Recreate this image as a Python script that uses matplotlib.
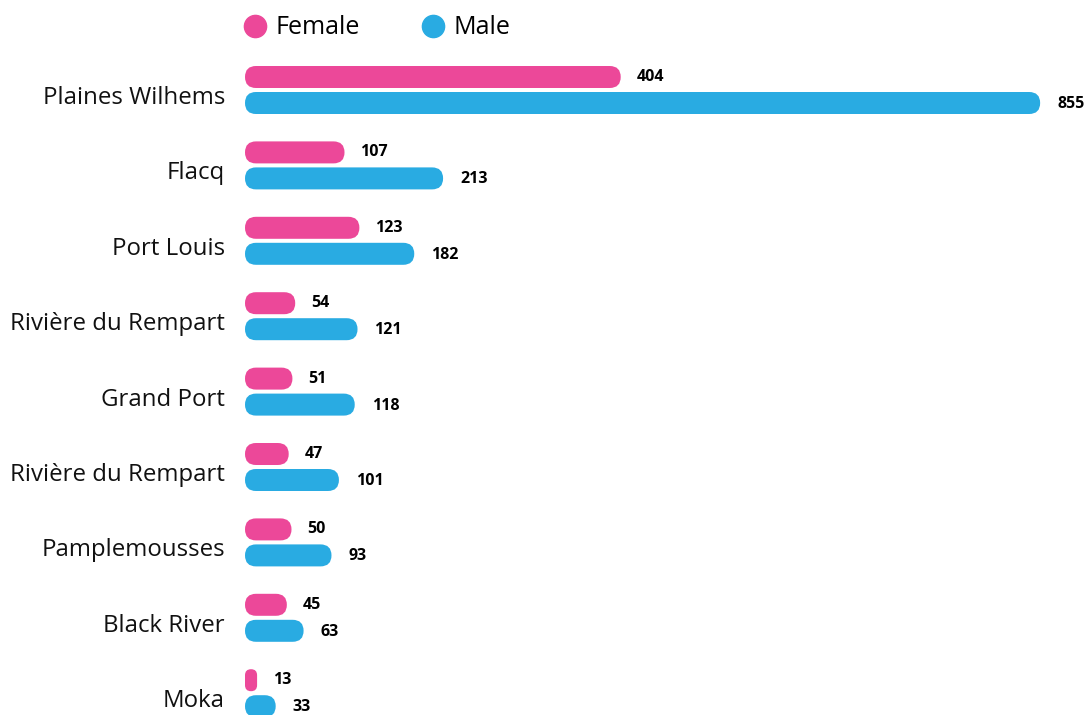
import matplotlib
matplotlib.use("Agg")
import matplotlib.pyplot as plt
from matplotlib.patches import FancyBboxPatch
from matplotlib.lines import Line2D

plt.rcParams['font.family'] = ['Open Sans', 'DejaVu Sans']

districts = ["Plaines Wilhems", "Flacq", "Port Louis", "Rivière du Rempart", "Grand Port",
             "Rivière du Rempart", "Pamplemousses", "Black River", "Moka"]
female = [404, 107, 123, 54, 51, 47, 50, 45, 13]
male = [855, 213, 182, 121, 118, 101, 93, 63, 33]

pink = "#EC4899"
blue = "#29ABE2"

W, H = 1089, 715
fig = plt.figure(figsize=(W / 100, H / 100), dpi=100)
x0 = 245
ax = fig.add_axes([x0 / W, 0, (W - x0) / W, 1])

px_x = 0.93      # pixels per value unit
px_y = 75.4      # pixels per row
ax.set_xlim(0, (W - x0) / px_x)
ax.set_ylim((H - 90) / px_y, -90 / px_y)
ax.axis('off')

bar_h = 22 / px_y
off = 13 / px_y
aspect = px_x / px_y

def pill(v, yc, color):
    hx = bar_h * px_y / px_x
    r = min(v, hx) / 2
    p = FancyBboxPatch((0, yc - bar_h / 2), v, bar_h,
                       boxstyle=f"round,pad=0,rounding_size={r}",
                       mutation_aspect=aspect, fc=color, ec='none', clip_on=False)
    ax.add_patch(p)

for i, (name, f, m) in enumerate(zip(districts, female, male)):
    pill(f, i - off, pink)
    pill(m, i + off, blue)
    ax.annotate(str(f), xy=(f, i - off), xytext=(16, 0), textcoords='offset pixels',
                ha='left', va='center', fontsize=11.5, fontweight='bold', annotation_clip=False)
    ax.annotate(str(m), xy=(m, i + off), xytext=(17, -1), textcoords='offset pixels',
                ha='left', va='center', fontsize=11.5, fontweight='bold', annotation_clip=False)
    ax.annotate(name, xy=(0, i), xytext=(-20, -8), textcoords='offset pixels',
                ha='right', va='center', fontsize=17.3, color='#111111', annotation_clip=False)

handles = [Line2D([], [], marker='o', linestyle='', markersize=16, color=pink, label='Female'),
           Line2D([], [], marker='o', linestyle='', markersize=16, color=blue, label='Male')]
fig.legend(handles=handles, loc='center left', bbox_to_anchor=(244 / W, 1 - 28 / H),
           ncol=2, frameon=False, fontsize=18, handlelength=0.9, handletextpad=0.35,
           columnspacing=2.5, borderaxespad=0, borderpad=0)

fig.savefig("out.png", dpi=100)
